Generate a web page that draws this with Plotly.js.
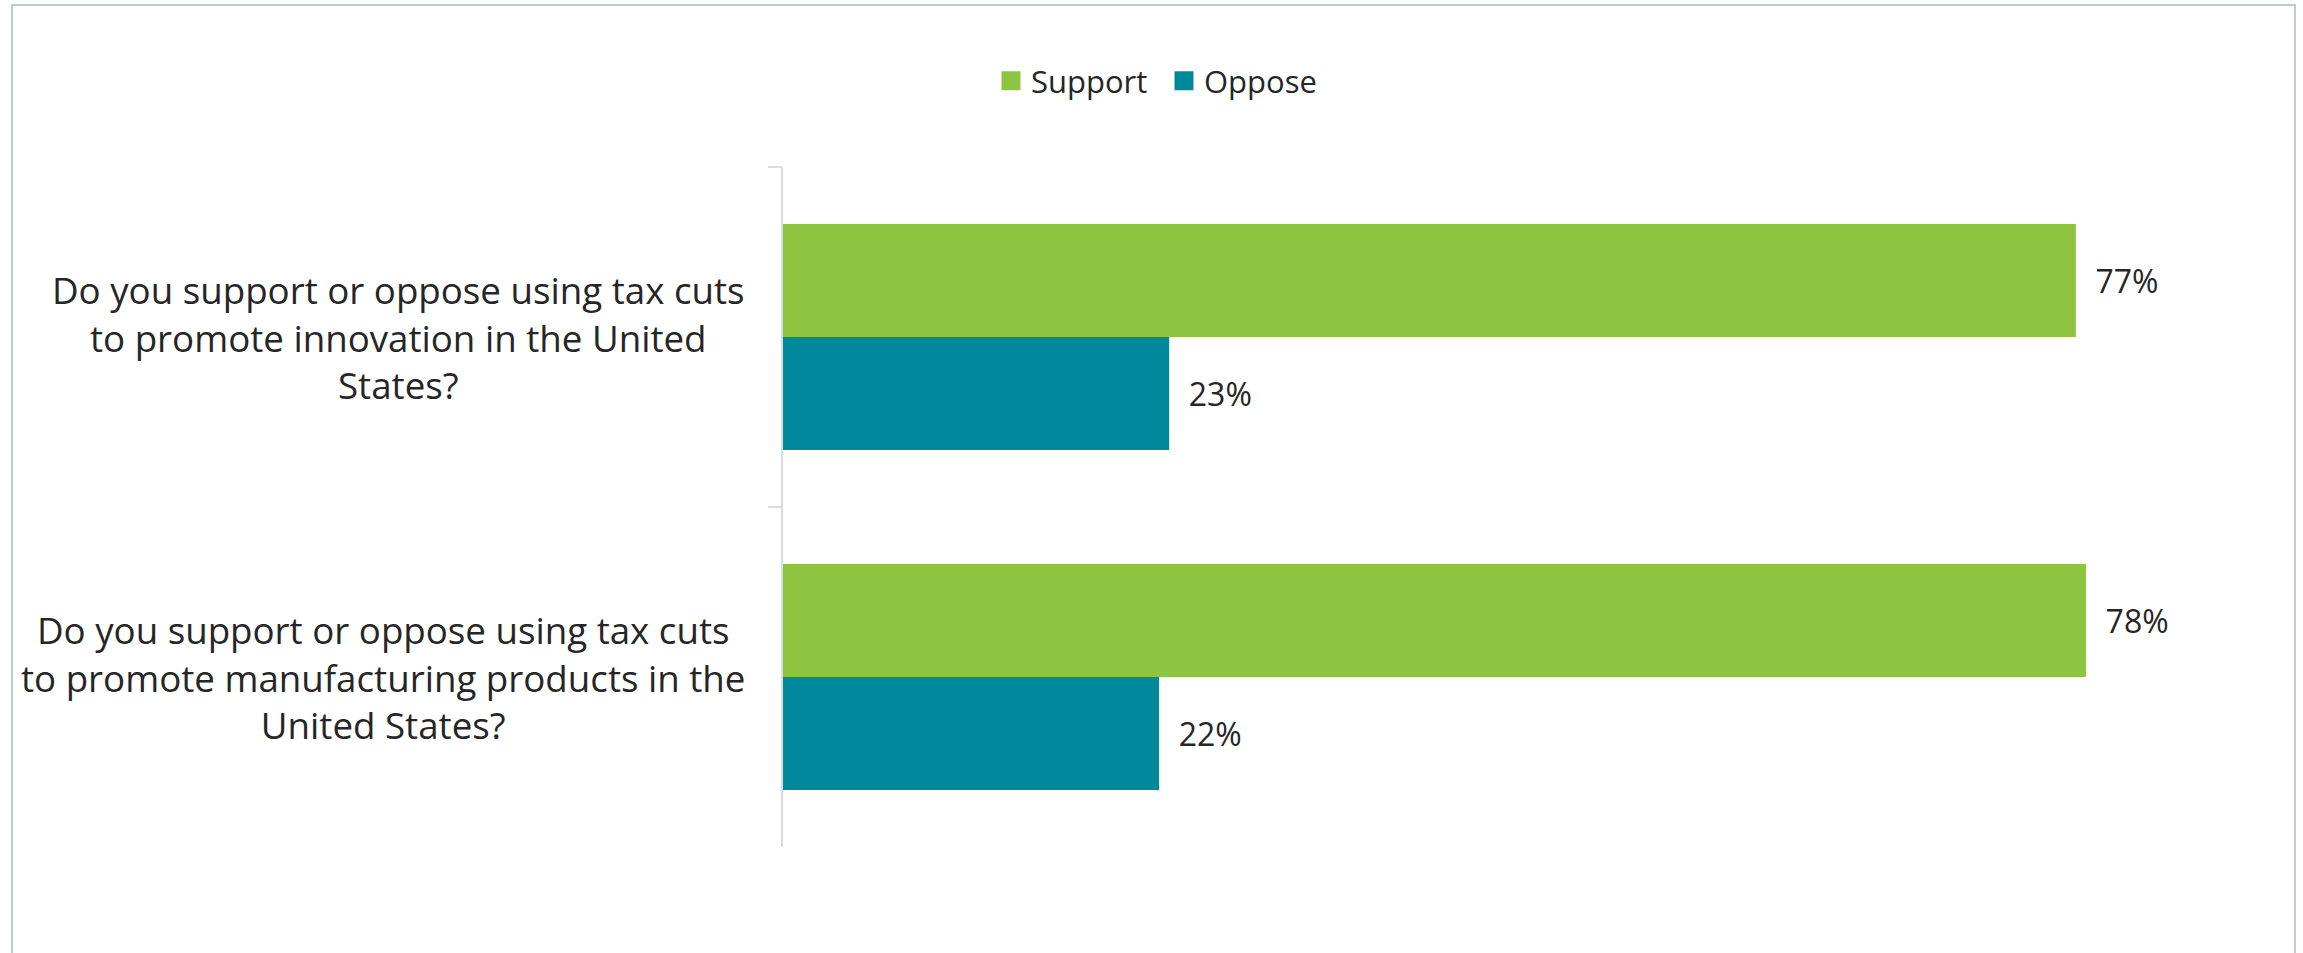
<!DOCTYPE html>
<html>
<head>
<meta charset="utf-8">
<script src="https://cdn.plot.ly/plotly-3.0.1.min.js"></script>
<style>
  html, body { margin: 0; padding: 0; background: #ffffff; overflow: hidden; }
  #chart { width: 2303px; height: 953px; }
  #frame { position: absolute; left: 11px; top: 4px; width: 2281px; height: 1200px;
           border: 2px solid #bfcad6; pointer-events: none; }
</style>
</head>
<body>
<div id="chart"></div>
<div id="frame"></div>
<script>
// ---- data ----
var categories = [
  "Do you support or oppose using tax cuts<br>to promote innovation in the United<br>States?",
  "Do you support or oppose using tax cuts<br>to promote manufacturing products in the<br>United States?"
];
var seriesNames = ["Support", "Oppose"];
var supportValues = [77, 77.6];
var opposeValues = [23, 22.4];
var seriesColors = ["#8DC540", "#00899B"];

var labelFont = "Open Sans, Noto Sans, sans-serif";
var textColor = "#262626";

function barTrace(name, values, color) {
  return {
    type: "bar",
    orientation: "h",
    name: name,
    y: categories,
    x: values,
    marker: { color: color, line: { width: 0 } },
    texttemplate: "\u00a0\u00a0%{x:.0f}%",
    textposition: "outside",
    cliponaxis: false,
    textfont: { family: labelFont, size: 32, color: textColor },
    hoverinfo: "skip",
    showlegend: false
  };
}

// legend entries (square swatches, same names/colours as the bar series)
function legendTrace(name, color) {
  return {
    type: "scatter",
    mode: "markers",
    name: name,
    x: [null],
    y: [null],
    marker: { symbol: "square", size: 16, color: color, line: { color: color, width: 3 } },
    hoverinfo: "skip",
    showlegend: true
  };
}

var traces = [
  barTrace(seriesNames[0], supportValues, seriesColors[0]),
  barTrace(seriesNames[1], opposeValues, seriesColors[1]),
  legendTrace(seriesNames[0], seriesColors[0]),
  legendTrace(seriesNames[1], seriesColors[1])
];

var annotations = categories.map(function (c) {
  return {
    xref: "paper", yref: "y",
    x: 0, y: c,
    xanchor: "right", yanchor: "middle",
    xshift: -36,
    align: "center",
    text: c,
    showarrow: false,
    font: { family: labelFont, size: 36.7, color: textColor }
  };
});

var layout = {
  width: 2303,
  height: 953,
  paper_bgcolor: "#ffffff",
  plot_bgcolor: "#ffffff",
  margin: { l: 783, r: 76, t: 167, b: 106, pad: 0 },
  barmode: "group",
  bargap: 0.335,
  bargroupgap: 0,
  showlegend: true,
  legend: {
    orientation: "h",
    xref: "container", yref: "container",
    x: 991 / 2303, y: 0.915,
    xanchor: "left", yanchor: "middle",
    font: { family: labelFont, size: 31, color: textColor },
    itemwidth: 30,
    entrywidth: 128,
    itemclick: false,
    traceorder: "normal"
  },
  xaxis: {
    range: [0, 86],
    visible: false,
    fixedrange: true
  },
  yaxis: {
    type: "category",
    autorange: "reversed",
    showline: true,
    linecolor: "#d9dde2",
    linewidth: 2,
    ticks: "outside",
    tickson: "boundaries",
    ticklen: 13,
    tickwidth: 2,
    tickcolor: "#d9dde2",
    showticklabels: false,
    showgrid: false,
    zeroline: false,
    fixedrange: true
  },
  annotations: annotations
};

Plotly.newPlot("chart", traces, layout, { displayModeBar: false, staticPlot: true });
</script>
</body>
</html>
